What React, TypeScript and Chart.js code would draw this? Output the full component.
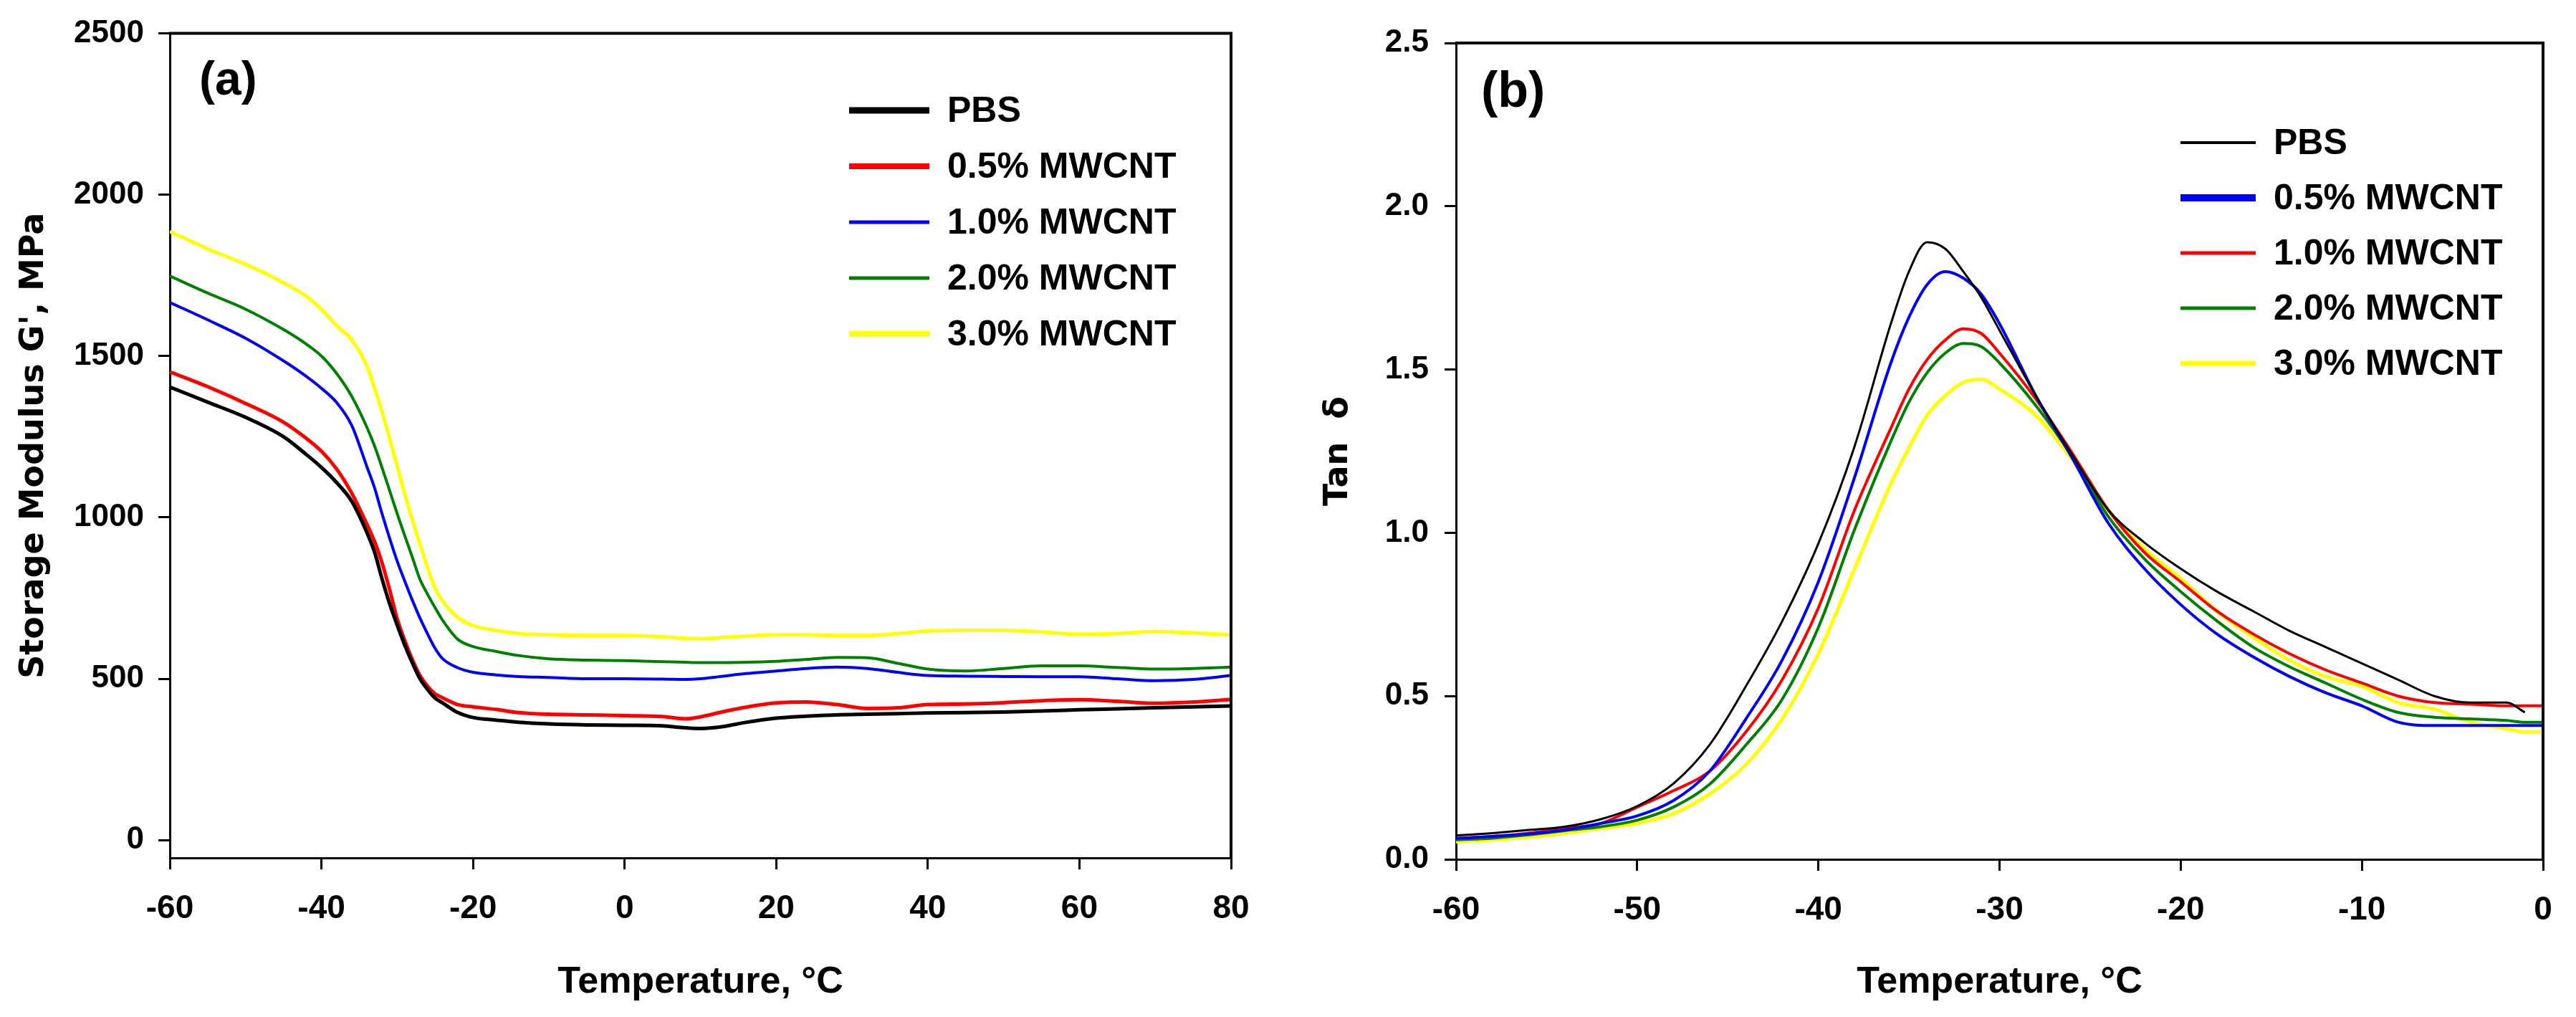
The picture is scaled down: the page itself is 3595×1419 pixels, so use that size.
import React, { useEffect, useRef } from "react";
import { Chart, registerables } from "chart.js";

Chart.register(...registerables);

// ---- data ----

const seriesNames = ["PBS", "0.5% MWCNT", "1.0% MWCNT", "2.0% MWCNT", "3.0% MWCNT"];

// panel (a): storage modulus, MPa
const tempA = [-60, -55, -50, -45, -42, -40, -38, -36, -34, -33, -32, -31, -30, -29, -28, -27, -26, -25, -24, -22, -20, -17, -14, -10, -5, 0, 5, 8, 10, 13, 16, 20, 24, 28, 32, 36, 40, 45, 50, 55, 60, 65, 70, 75, 80];
const storagePBS = [1404, 1357, 1310, 1250, 1195, 1155, 1108, 1050, 953, 893, 809, 732, 666, 604, 549, 500, 467, 440, 425, 395, 380, 372, 365, 360, 357, 356, 354, 348, 346, 352, 365, 378, 384, 388, 390, 392, 394, 395, 397, 400, 404, 407, 410, 413, 416];
const storage05 = [1451, 1405, 1353, 1295, 1245, 1205, 1150, 1075, 979, 926, 859, 776, 685, 618, 559, 510, 477, 453, 441, 420, 413, 405, 395, 390, 388, 386, 383, 376, 382, 398, 412, 425, 428, 420, 408, 410, 420, 422, 426, 432, 435, 430, 424, 428, 436];
const storage10 = [1666, 1612, 1555, 1485, 1437, 1400, 1356, 1285, 1157, 1092, 1011, 935, 864, 802, 743, 688, 639, 594, 562, 534, 520, 512, 507, 504, 500, 500, 499, 498, 500, 508, 516, 524, 532, 536, 532, 520, 510, 508, 507, 506, 506, 500, 494, 498, 510];
const storage20 = [1748, 1695, 1645, 1582, 1537, 1500, 1446, 1375, 1279, 1222, 1154, 1083, 1011, 943, 876, 808, 762, 720, 681, 622, 600, 585, 572, 562, 558, 556, 553, 551, 550, 550, 551, 554, 560, 566, 565, 548, 530, 524, 532, 540, 540, 535, 530, 532, 536];
const storage30 = [1886, 1832, 1784, 1727, 1685, 1645, 1594, 1550, 1469, 1401, 1327, 1244, 1158, 1072, 992, 917, 844, 780, 740, 690, 665, 650, 640, 636, 634, 634, 630, 625, 624, 628, 632, 636, 636, 634, 634, 640, 648, 650, 650, 645, 638, 640, 646, 642, 636];
const storageTicks = [0, 500, 1000, 1500, 2000, 2500];

// panel (b): tan delta
const tempB = [-60, -58, -56, -54, -52, -50, -48, -46, -44, -42, -40, -38, -36, -35, -34, -33, -32, -31, -30, -28, -26, -24, -22, -20, -18, -16, -14, -12, -10, -8, -6, -4, -2, -1, 0];
const tanPBS = [0.073, 0.08, 0.09, 0.1, 0.123, 0.163, 0.232, 0.351, 0.53, 0.729, 0.967, 1.265, 1.64, 1.8, 1.89, 1.87, 1.8, 1.72, 1.62, 1.42, 1.24, 1.07, 0.97, 0.89, 0.82, 0.76, 0.7, 0.65, 0.6, 0.55, 0.5, 0.48, 0.48, 0.45, null];
const tan05 = [0.064, 0.07, 0.078, 0.09, 0.11, 0.133, 0.18, 0.27, 0.43, 0.61, 0.85, 1.17, 1.52, 1.66, 1.76, 1.8, 1.78, 1.73, 1.64, 1.42, 1.23, 1.03, 0.89, 0.78, 0.69, 0.62, 0.56, 0.51, 0.47, 0.42, 0.41, 0.41, 0.41, 0.41, 0.41];
const tan10 = [0.064, 0.07, 0.08, 0.095, 0.11, 0.16, 0.21, 0.27, 0.39, 0.55, 0.77, 1.07, 1.32, 1.44, 1.53, 1.59, 1.625, 1.61, 1.55, 1.41, 1.245, 1.07, 0.94, 0.85, 0.76, 0.69, 0.63, 0.58, 0.54, 0.5, 0.48, 0.475, 0.47, 0.47, 0.47];
const tan20 = [0.06, 0.065, 0.075, 0.088, 0.1, 0.12, 0.16, 0.23, 0.35, 0.49, 0.71, 1.01, 1.28, 1.4, 1.49, 1.55, 1.58, 1.57, 1.52, 1.39, 1.235, 1.05, 0.92, 0.82, 0.73, 0.65, 0.59, 0.54, 0.49, 0.45, 0.435, 0.43, 0.425, 0.42, 0.42];
const tan30 = [0.054, 0.06, 0.068, 0.08, 0.095, 0.11, 0.14, 0.2, 0.29, 0.43, 0.63, 0.89, 1.15, 1.26, 1.36, 1.42, 1.46, 1.47, 1.44, 1.36, 1.225, 1.07, 0.95, 0.86, 0.76, 0.68, 0.61, 0.56, 0.53, 0.48, 0.46, 0.42, 0.4, 0.39, 0.39];
const tanTicks = [0, 0.5, 1, 1.5, 2, 2.5];

// ---- styling ----

const NARROW = "'Liberation Sans Narrow', 'Arial Narrow', 'Liberation Sans', Arial, sans-serif";
const WIDE = "'DejaVu Sans', Verdana, sans-serif";
const ARIAL = "'Liberation Sans', Arial, sans-serif";

// draws the box frame, the in-plot legend and the panel letter
const framePlugin = {
  id: "frame",
  afterDatasetsDraw(chart: any, _args: any, opts: any) {
    const { ctx, chartArea: a } = chart;
    ctx.save();
    ctx.strokeStyle = "#000";
    ctx.lineWidth = 4;
    ctx.beginPath();
    ctx.moveTo(a.left - 1, a.top);
    ctx.lineTo(a.right, a.top);
    ctx.lineTo(a.right, a.bottom);
    ctx.stroke();

    const lg = opts.legend;
    ctx.font = `bold ${lg.size}px ${NARROW}`;
    ctx.textBaseline = "middle";
    ctx.textAlign = "left";
    chart.data.datasets.forEach((ds: any, i: number) => {
      const y = lg.y0 + i * lg.dy;
      ctx.strokeStyle = ds.borderColor;
      ctx.lineWidth = lg.widths[i];
      ctx.beginPath();
      ctx.moveTo(lg.x1, y);
      ctx.lineTo(lg.x2, y);
      ctx.stroke();
      ctx.fillStyle = "#000";
      ctx.fillText(ds.label, lg.textX, y + 2);
    });

    const lb = opts.label;
    ctx.font = `bold ${lb.size}px ${ARIAL}`;
    ctx.fillStyle = "#000";
    ctx.fillText(lb.text, lb.x, lb.y);
    ctx.restore();
  },
};

function axisBase(size: number) {
  return {
    type: "linear" as const,
    grid: { drawOnChartArea: false, drawTicks: true, tickLength: 16, color: "#000", lineWidth: 3 },
    border: { display: true, color: "#000", width: 3 },
    ticks: { color: "#000", font: { family: NARROW, size, weight: "bold" as const } },
  };
}

function lineSet(label: string, data: (number | null)[], xs: number[], color: string, width: number) {
  return {
    label,
    data: data.map((v, j) => ({ x: xs[j], y: v })),
    borderColor: color,
    backgroundColor: color,
    borderWidth: width,
    pointRadius: 0,
    cubicInterpolationMode: "monotone" as const,
    spanGaps: false,
  };
}

const xTitle = { display: true, text: "Temperature, °C", color: "#000", padding: 17, font: { family: NARROW, size: 52, weight: "bold" } };

const configA = {
  type: "line",
  data: {
    datasets: [
      lineSet(seriesNames[0], storagePBS, tempA, "#000000", 5),
      lineSet(seriesNames[1], storage05, tempA, "#ff0000", 5),
      lineSet(seriesNames[2], storage10, tempA, "#0000ff", 4),
      lineSet(seriesNames[3], storage20, tempA, "#008000", 4),
      lineSet(seriesNames[4], storage30, tempA, "#ffff00", 5),
    ],
  },
  options: {
    animation: false,
    responsive: true,
    maintainAspectRatio: false,
    devicePixelRatio: 1,
    layout: { padding: { left: 0, right: 82, top: 42, bottom: 0 } },
    plugins: {
      legend: { display: false },
      tooltip: { enabled: false },
      frame: {
        legend: { x1: 1185, x2: 1297, textX: 1322, y0: 154, dy: 78, size: 50, widths: [9, 8, 5, 5, 8] },
        label: { text: "(a)", x: 278, y: 114, size: 66 },
      },
    },
    scales: {
      x: {
        ...axisBase(46),
        min: -60,
        max: 80,
        ticks: { ...axisBase(46).ticks, stepSize: 20, padding: 28 },
        afterFit: (s: any) => { s.height = 222; },
        title: xTitle,
      },
      y: {
        ...axisBase(44),
        min: -55,
        max: 2500,
        afterBuildTicks: (s: any) => { s.ticks = storageTicks.map((v) => ({ value: v })); },
        ticks: { ...axisBase(44).ticks, padding: 20, callback: (v: any) => String(v) },
        afterFit: (s: any) => { s.width = 237; },
        title: { display: true, text: "Storage Modulus G', MPa", color: "#000", padding: 20, font: { family: WIDE, size: 46, weight: "bold" } },
      },
    },
  },
  plugins: [framePlugin],
};

const configB = {
  type: "line",
  data: {
    datasets: [
      lineSet(seriesNames[0], tanPBS, tempB, "#000000", 3),
      lineSet(seriesNames[1], tan05, tempB, "#0000ff", 4),
      lineSet(seriesNames[2], tan10, tempB, "#ff0000", 4),
      lineSet(seriesNames[3], tan20, tempB, "#008000", 4),
      lineSet(seriesNames[4], tan30, tempB, "#ffff00", 5),
    ],
  },
  options: {
    animation: false,
    responsive: true,
    maintainAspectRatio: false,
    devicePixelRatio: 1,
    layout: { padding: { left: 0, right: 46, top: 60, bottom: 0 } },
    plugins: {
      legend: { display: false },
      tooltip: { enabled: false },
      frame: {
        legend: { x1: 1243, x2: 1348, textX: 1373, y0: 199, dy: 77, size: 50, widths: [4, 10, 5, 5, 7] },
        label: { text: "(b)", x: 267, y: 130, size: 70 },
      },
    },
    scales: {
      x: {
        ...axisBase(46),
        min: -60,
        max: 0,
        ticks: { ...axisBase(46).ticks, stepSize: 10, padding: 28 },
        afterFit: (s: any) => { s.height = 220; },
        title: xTitle,
      },
      y: {
        ...axisBase(44),
        min: 0,
        max: 2.5,
        afterBuildTicks: (s: any) => { s.ticks = tanTicks.map((v) => ({ value: v })); },
        ticks: { ...axisBase(44).ticks, padding: 22, callback: (v: any) => Number(v).toFixed(1) },
        afterFit: (s: any) => { s.width = 232; },
        title: { display: true, text: "Tan  δ", color: "#000", padding: 40, font: { family: WIDE, size: 46, weight: "bold" } },
      },
    },
  },
  plugins: [framePlugin],
};

function Panel({ config, left, width }: { config: any; left: number; width: number }) {
  const canvasRef = useRef<HTMLCanvasElement>(null);
  useEffect(() => {
    if (!canvasRef.current) return;
    const chart = new Chart(canvasRef.current, config);
    return () => chart.destroy();
  }, [config]);
  return (
    <div style={{ position: "absolute", left, top: 0, width, height: 1419 }}>
      <canvas ref={canvasRef} />
    </div>
  );
}

export default function App() {
  return (
    <div style={{ position: "absolute", left: 0, top: 0, width: 3595, height: 1419, background: "#fff" }}>
      <Panel config={configA} left={0} width={1800} />
      <Panel config={configB} left={1800} width={1795} />
    </div>
  );
}
